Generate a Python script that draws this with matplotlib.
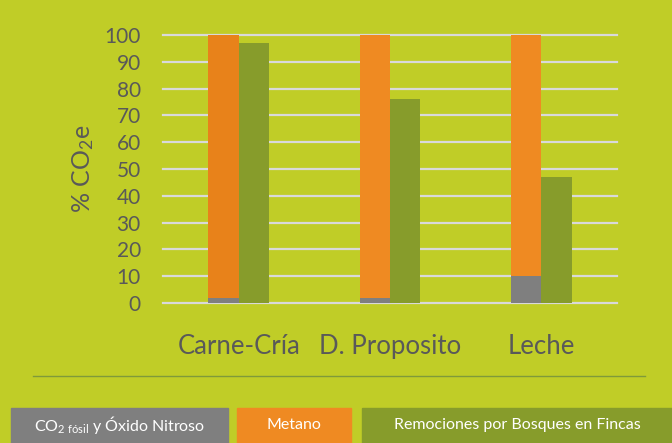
import numpy as np
import matplotlib.pyplot as plt
from matplotlib.patches import Rectangle

plt.rcParams['font.family'] = ['Lato', 'DejaVu Sans']
plt.rcParams['mathtext.fontset'] = 'custom'
plt.rcParams['mathtext.rm'] = 'Lato'
plt.rcParams['mathtext.it'] = 'Lato'

# datos (% CO2e)
categorias = ['Carne-Cría', 'D. Proposito', 'Leche']
co2_fosil = [1.7, 1.7, 10.2]
metano = [98.3, 98.3, 89.8]
remociones = [97, 76, 47]
yticks = [0, 10, 20, 30, 40, 50, 60, 70, 80, 90, 100]

fondo = '#C0CD27'
naranja = '#EF8A22'
verde = '#879C2B'
gris = '#7F7F7F'
texto = '#595959'


def main():
    fig = plt.figure(figsize=(6.72, 4.43), dpi=100, facecolor=fondo)
    ax = fig.add_axes([163 / 672, 1 - 303 / 443, (617 - 163) / 672, 268 / 443])
    ax.set_facecolor(fondo)

    x = np.arange(len(categorias))
    w = 0.2
    colores_metano = ['#E8821A', naranja, naranja]
    ax.bar(x - w / 2, co2_fosil, w, color=gris, zorder=3)
    ax.bar(x - w / 2, metano, w, bottom=co2_fosil, color=colores_metano, zorder=3)
    ax.bar(x + w / 2, remociones, w, color=verde, zorder=3)

    ax.set_xlim(-0.5, 2.5)
    ax.set_ylim(0, 100)
    ax.set_yticks(yticks)
    ax.yaxis.grid(True, color='#D9D9D9', lw=1.6)
    for gl in ax.get_ygridlines():
        gl.set_clip_on(False)
    ax.set_axisbelow(True)
    for s in ax.spines.values():
        s.set_visible(False)
    ax.tick_params(axis='y', length=0, pad=16, labelsize=15, labelcolor=texto)
    ax.tick_params(axis='x', length=0, pad=22, labelsize=18.5, labelcolor=texto)
    ax.set_xticks(x)
    ax.set_xticklabels(categorias)
    ax.set_ylabel('% CO$_2$e', fontsize=18, color=texto, labelpad=6)

    # linea separadora
    fig.add_artist(plt.Line2D([33 / 672, 645 / 672], [1 - 376 / 443, 1 - 376 / 443],
                              color='#7F9A3A', lw=1))

    # leyenda como cajas
    cajas = [(11, 228, gris, 'CO$_{\\mathrm{2\\ fósil}}$ y Óxido Nitroso'),
             (237, 351, naranja, 'Metano'),
             (362, 672, verde, 'Remociones por Bosques en Fincas')]
    for x0, x1, c, t in cajas:
        fig.add_artist(Rectangle((x0 / 672, 0), (x1 - x0) / 672, 35 / 443,
                                 transform=fig.transFigure, color=c))
        fig.text((x0 + x1) / 2 / 672, 1 - 425 / 443, t, color='white', fontsize=11.5,
                 ha='center', va='center')

    fig.savefig('out.png', dpi=100, facecolor=fondo)


if __name__ == "__main__":
    main()
